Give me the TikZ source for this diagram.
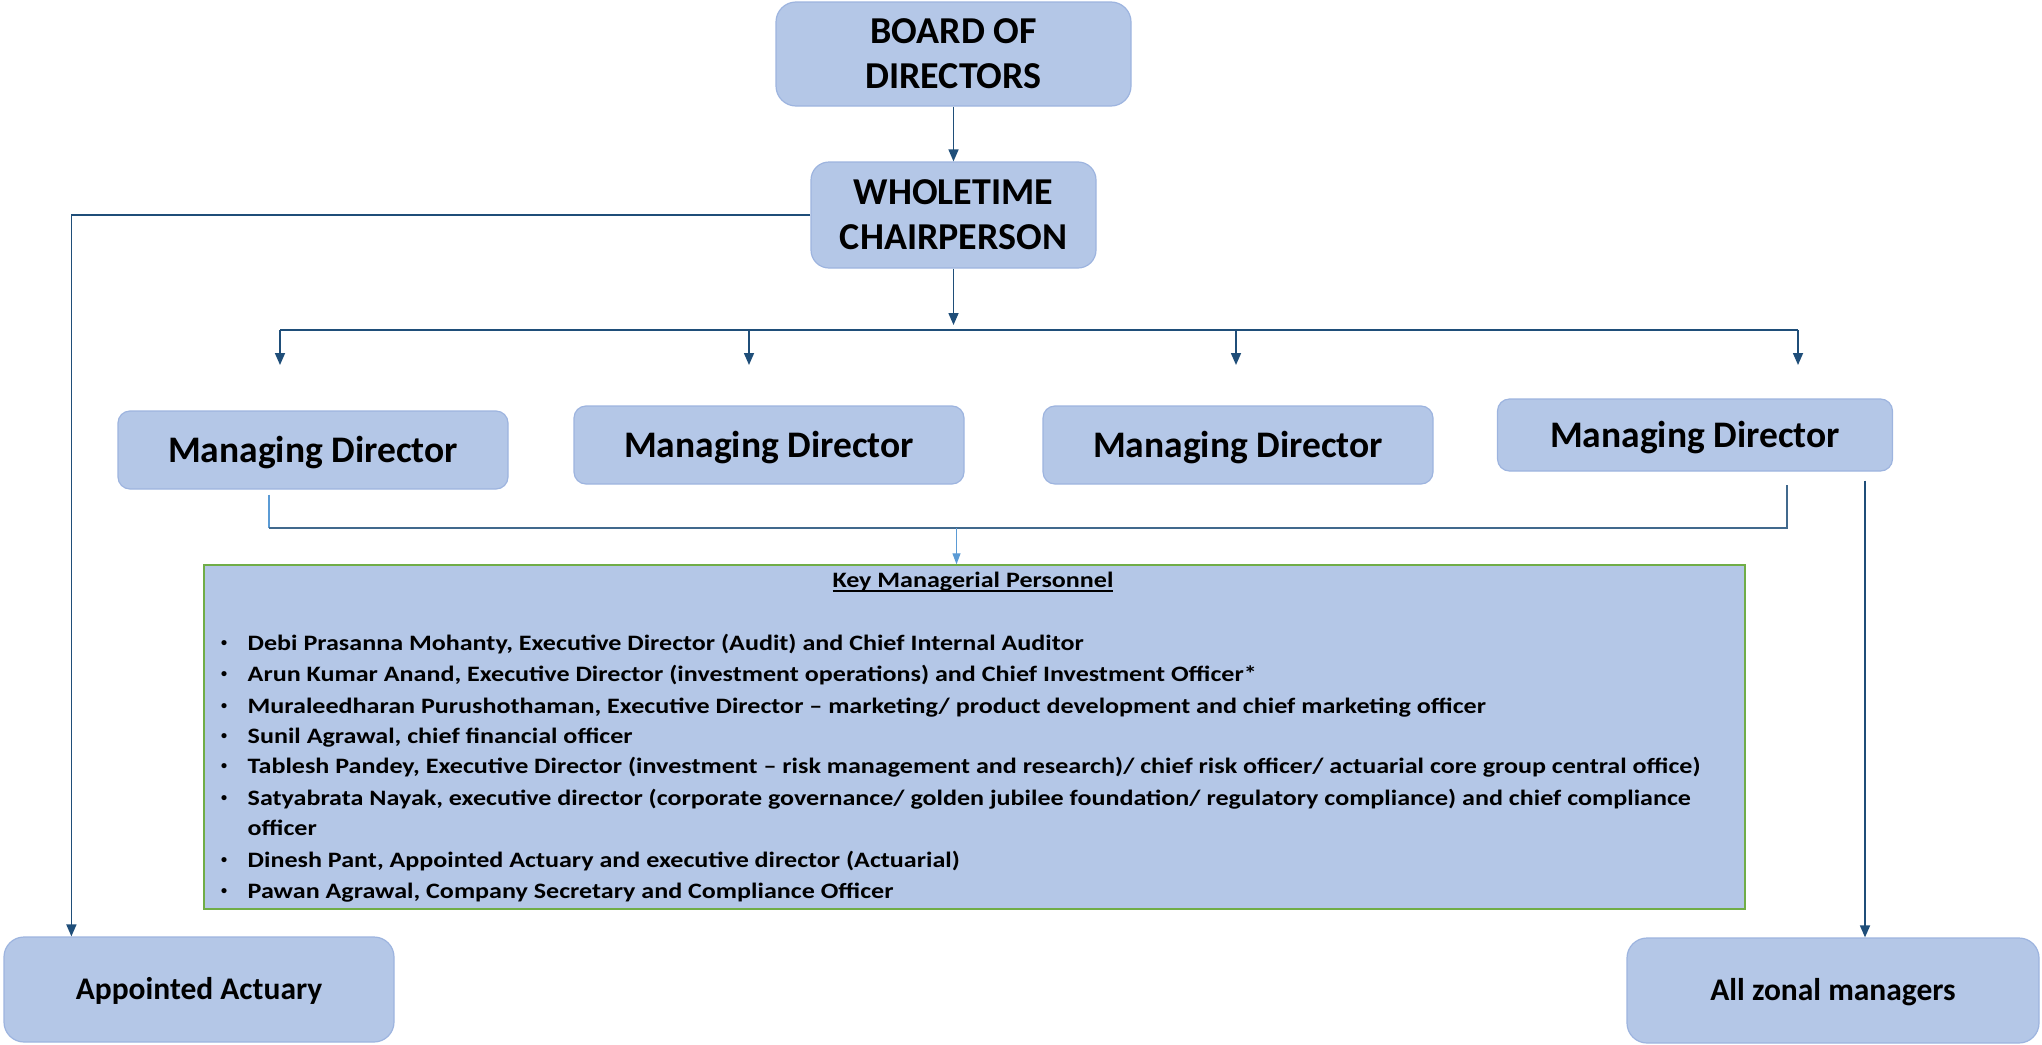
\documentclass[tikz,border=0pt]{standalone}
\usepackage{fontspec}
\setmainfont{Carlito}
\usetikzlibrary{arrows.meta,calc}
\definecolor{boxfill}{HTML}{B4C7E7}
\definecolor{boxline}{HTML}{9DB4DF}
\definecolor{darkline}{HTML}{1F4E79}
\definecolor{lightline}{HTML}{5B9BD5}
\definecolor{kmpline}{HTML}{70AD47}
\newcommand{\kbul}{\makebox[26.5pt][l]{\raisebox{4pt}{\scalebox{0.55}{•}}}}
\newcommand{\kst}[1]{\scalebox{1.185}[1]{#1}}
\newcommand{\kmpul}[1]{\setbox0\hbox{#1}\rlap{\rule[-4.5pt]{\wd0}{1.5pt}}\box0}
\begin{document}
\begin{tikzpicture}[x=1pt,y=-1pt,
  box/.style={draw=boxline, fill=boxfill, line width=1.2pt, rounded corners=14pt,
    inner sep=0pt, align=center, font=\bfseries\fontsize{38}{45}\selectfont},
  mdbox/.style={box, minimum width=390pt, minimum height=78pt, rounded corners=12pt,
    font=\bfseries\fontsize{37.5}{45}\selectfont, text height=24pt, text depth=0pt},
  endbox/.style={box, minimum height=105pt, rounded corners=20pt,
    font=\bfseries\fontsize{31.5}{38}\selectfont, text height=20pt, text depth=0pt},
  dline/.style={draw=darkline, line width=1.6pt},
  darr/.style={dline, -{Triangle[length=12pt,width=10pt]}},
  larr/.style={draw=lightline, line width=1.2pt, -{Triangle[length=11pt,width=8pt]}},
  kl/.style={anchor=base west, inner sep=0pt, font=\bfseries\fontsize{22}{26}\selectfont}
]
\useasboundingbox (0,0) rectangle (2042,1044);

% boxes
\node[box, minimum width=355pt, minimum height=104pt, rounded corners=20pt] (board) at (953.5,54) {BOARD OF\\DIRECTORS};
\node[box, minimum width=285pt, minimum height=106pt, rounded corners=18pt] (whole) at (953.5,215) {WHOLETIME\\CHAIRPERSON};
\node[mdbox] (md1) at (313,450) {Managing Director};
\node[mdbox] (md2) at (769,445) {Managing Director};
\node[mdbox] (md3) at (1238,445) {Managing Director};
\node[mdbox, minimum width=395pt, minimum height=72pt] (md4) at (1695,435) {Managing Director};
\node[endbox, minimum width=390pt] (aa) at (199,989.5) {Appointed Actuary};
\node[endbox, minimum width=412pt] (zm) at (1833,990.5) {All zonal managers};
\node[draw=kmpline, fill=boxfill, line width=1.4pt, minimum width=1541pt, minimum height=344pt, inner sep=0pt] (kmp) at (974.5,737) {};

% KMP text
\node[kl, anchor=base] (kt) at (973,587) {\kst{\kmpul{Key Managerial Personnel}}};
\node[kl] (k1) at (221,650) {\kbul\kst{Debi Prasanna Mohanty, Executive Director (Audit) and Chief Internal Auditor}};
\node[kl] (k2) at (221,681) {\kbul\kst{Arun Kumar Anand, Executive Director (investment operations) and Chief Investment Officer*}};
\node[kl] (k3) at (221,713) {\kbul\kst{Muraleedharan Purushothaman, Executive Director – marketing/ product development and chief marketing officer}};
\node[kl] (k4) at (221,743) {\kbul\kst{Sunil Agrawal, chief financial officer}};
\node[kl] (k5) at (221,773) {\kbul\kst{Tablesh Pandey, Executive Director (investment – risk management and research)/ chief risk officer/ actuarial core group central office)}};
\node[kl] (k6) at (221,805) {\kbul\kst{Satyabrata Nayak, executive director (corporate governance/ golden jubilee foundation/ regulatory compliance) and chief compliance}};
\node[kl] (k7) at (221,835) {\hspace*{26.5pt}\kst{officer}};
\node[kl] (k8) at (221,867) {\kbul\kst{Dinesh Pant, Appointed Actuary and executive director (Actuarial)}};
\node[kl] (k9) at (221,898) {\kbul\kst{Pawan Agrawal, Company Secretary and Compliance Officer}};

% connectors
\draw[darr] (board.south) -- (whole.north);
\coordinate (busc) at (953.5,330);
\draw[darr] (whole.south) -- ([yshift=5pt]busc);
\coordinate (b1) at (280,330);
\coordinate (b4) at (1798,330);
\draw[dline] (b1) -- (b4);
\coordinate (d1) at (280,365);
\coordinate (d2) at (749,365);
\coordinate (d3) at (1236,365);
\coordinate (d4) at (1798,365);
\draw[darr] (b1) -- (d1);
\draw[darr] (d2 |- b1) -- (d2);
\draw[darr] (d3 |- b1) -- (d3);
\draw[darr] (b4) -- (d4);

\draw[darr] (whole.west) -| ([xshift=68pt]aa.north west);

\coordinate (m1) at ($(md1.south)+(-44,5)$);
\coordinate (m4) at ($(md4.south)+(92,13)$);
\coordinate (m1b) at (m1 |- 0,528);
\coordinate (m4b) at (m4 |- 0,528);
\draw[draw=lightline, line width=1.2pt] (m1) -- (m1b);
\draw[draw=darkline!85, line width=1.5pt] (m1b) -- (m4b) -- (m4);
\draw[larr] ([xshift=-18pt]kmp.north |- m1b) -- ([xshift=-18pt]kmp.north);

\draw[darr] ($(md4.south)+(170,9)$) -- ([xshift=32pt]zm.north);
\end{tikzpicture}
\end{document}
